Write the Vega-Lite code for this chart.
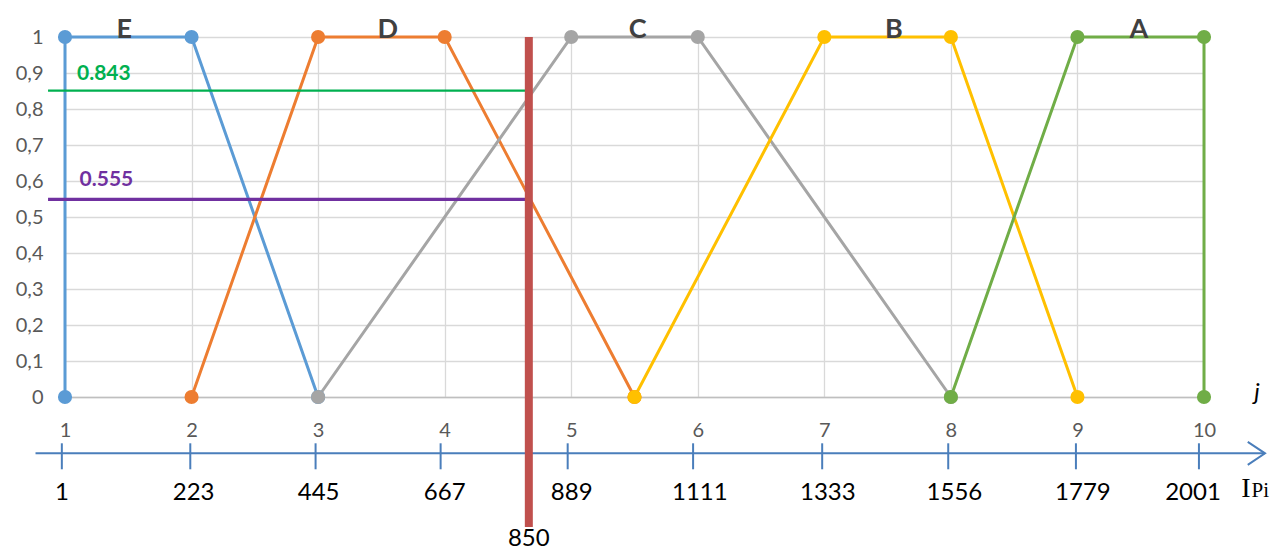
{
  "$schema": "https://vega.github.io/schema/vega-lite/v6.json",
  "width": 1139,
  "height": 360,
  "autosize": {"type": "none"},
  "padding": {"left": 65, "top": 37, "right": 66, "bottom": 154},
  "background": "white",
  "config": {"view": {"stroke": null}, "font": "Lato"},
  "datasets": {
    "series": [
      {"s": "E", "i": 1, "j": 1, "v": 0},
      {"s": "E", "i": 2, "j": 1, "v": 1},
      {"s": "E", "i": 3, "j": 2, "v": 1},
      {"s": "E", "i": 4, "j": 3, "v": 0},
      {"s": "D", "i": 1, "j": 2, "v": 0},
      {"s": "D", "i": 2, "j": 3, "v": 1},
      {"s": "D", "i": 3, "j": 4, "v": 1},
      {"s": "D", "i": 4, "j": 5.5, "v": 0},
      {"s": "C", "i": 1, "j": 3, "v": 0},
      {"s": "C", "i": 2, "j": 5, "v": 1},
      {"s": "C", "i": 3, "j": 6, "v": 1},
      {"s": "C", "i": 4, "j": 8, "v": 0},
      {"s": "B", "i": 1, "j": 5.5, "v": 0},
      {"s": "B", "i": 2, "j": 7, "v": 1},
      {"s": "B", "i": 3, "j": 8, "v": 1},
      {"s": "B", "i": 4, "j": 9, "v": 0},
      {"s": "A", "i": 1, "j": 8, "v": 0},
      {"s": "A", "i": 2, "j": 9, "v": 1},
      {"s": "A", "i": 3, "j": 10, "v": 1},
      {"s": "A", "i": 4, "j": 10, "v": 0}
    ],
    "letters": [
      {"t": "E", "j": 1.468, "v": 0.997},
      {"t": "D", "j": 3.55, "v": 0.997},
      {"t": "C", "j": 5.525, "v": 0.997},
      {"t": "B", "j": 7.55, "v": 0.997},
      {"t": "A", "j": 9.486, "v": 0.997}
    ],
    "green": [{"t": "0.843", "j": 0.866, "j2": 4.665, "v": 0.851, "tj": 1.095, "tv": 0.881}],
    "purple": [{"t": "0.555", "j": 0.866, "j2": 4.665, "v": 0.549, "tj": 1.115, "tv": 0.586}],
    "red": [{"t": "850", "j": 4.665, "v": 1.0, "v2": -0.361, "tv": -0.414}],
    "ipaxis": [{"j": 0.767, "j2": 10.482, "v": -0.1564}],
    "ipticks": [
      {"t": "1", "j": 0.975, "lj": 0.976},
      {"t": "223", "j": 1.99, "lj": 2.016},
      {"t": "445", "j": 2.98, "lj": 3.004},
      {"t": "667", "j": 3.968, "lj": 4.0},
      {"t": "889", "j": 4.972, "lj": 5.004},
      {"t": "1111", "j": 5.963, "lj": 6.016},
      {"t": "1333", "j": 6.983, "lj": 7.028},
      {"t": "1556", "j": 7.979, "lj": 8.028},
      {"t": "1779", "j": 8.988, "lj": 9.043},
      {"t": "2001", "j": 9.96, "lj": 9.913}
    ]
  },
  "layer": [
    {
      "data": {"name": "series"},
      "mark": {"type": "line", "strokeWidth": 3},
      "encoding": {
        "x": {"field": "j", "type": "quantitative", "title": null,
          "scale": {"domain": [1, 10], "nice": false, "zero": false},
          "axis": {"values": [1,2,3,4,5,6,7,8,9,10], "tickCount": 10, "format": "d", "grid": true, "gridColor": "#d9d9d9", "gridWidth": 1.3,
            "ticks": false, "tickSize": 0, "labelPadding": 23, "labelFontSize": 20, "labelColor": "#595959",
            "labelFont": "Lato", "domainColor": "#bfbfbf", "domainWidth": 1.6, "labelFlush": false, "labelOverlap": false}},
        "y": {"field": "v", "type": "quantitative", "title": null,
          "scale": {"domain": [0, 1], "nice": false},
          "axis": {"values": [0,0.1,0.2,0.3,0.4,0.5,0.6,0.7,0.8,0.9,1], "tickCount": 11, "grid": true, "gridColor": "#d9d9d9", "gridWidth": 1.3,
            "ticks": false, "tickSize": 0, "domain": false, "labelPadding": 22, "labelFontSize": 20, "labelColor": "#595959",
            "labelFont": "Lato", "labelFlush": false, "labelOverlap": false,
            "labelExpr": "replace(format(datum.value, '.1~f'), '.', ',')"}},
        "order": {"field": "i", "type": "quantitative"},
        "color": {"field": "s", "type": "nominal", "legend": null,
          "scale": {"domain": ["E","D","C","B","A"], "range": ["#5b9bd5","#ed7d31","#a5a5a5","#ffc000","#70ad47"]}}
      }
    },
    {
      "data": {"name": "series"},
      "mark": {"type": "point", "size": 200, "filled": true, "opacity": 1},
      "encoding": {
        "x": {"field": "j", "type": "quantitative", "title": null},
        "y": {"field": "v", "type": "quantitative", "title": null},
        "color": {"field": "s", "type": "nominal", "legend": null}
      }
    },
    {
      "data": {"name": "letters"},
      "mark": {"type": "text", "fontSize": 27, "fontWeight": "bold", "color": "#404040", "align": "center", "baseline": "alphabetic"},
      "encoding": {
        "x": {"field": "j", "type": "quantitative", "title": null},
        "y": {"field": "v", "type": "quantitative", "title": null},
        "text": {"field": "t"}
      }
    },
    {
      "data": {"name": "green"},
      "mark": {"type": "rule", "color": "#00b050", "strokeWidth": 2.2},
      "encoding": {
        "x": {"field": "j", "type": "quantitative", "title": null},
        "x2": {"field": "j2"},
        "y": {"field": "v", "type": "quantitative", "title": null}
      }
    },
    {
      "data": {"name": "green"},
      "mark": {"type": "text", "fontSize": 21, "fontWeight": "bold", "color": "#00b050", "align": "left", "baseline": "alphabetic"},
      "encoding": {
        "x": {"field": "tj", "type": "quantitative", "title": null},
        "y": {"field": "tv", "type": "quantitative", "title": null},
        "text": {"field": "t"}
      }
    },
    {
      "data": {"name": "purple"},
      "mark": {"type": "rule", "color": "#7030a0", "strokeWidth": 3.2},
      "encoding": {
        "x": {"field": "j", "type": "quantitative", "title": null},
        "x2": {"field": "j2"},
        "y": {"field": "v", "type": "quantitative", "title": null}
      }
    },
    {
      "data": {"name": "purple"},
      "mark": {"type": "text", "fontSize": 21, "fontWeight": "bold", "color": "#7030a0", "align": "left", "baseline": "alphabetic"},
      "encoding": {
        "x": {"field": "tj", "type": "quantitative", "title": null},
        "y": {"field": "tv", "type": "quantitative", "title": null},
        "text": {"field": "t"}
      }
    },
    {
      "data": {"name": "ipaxis"},
      "mark": {"type": "rule", "color": "#4a7ebb", "strokeWidth": 2},
      "encoding": {
        "x": {"field": "j", "type": "quantitative", "title": null},
        "x2": {"field": "j2"},
        "y": {"field": "v", "type": "quantitative", "title": null}
      }
    },
    {
      "data": {"name": "ipaxis"},
      "mark": {"type": "point", "shape": "M-1.5,-1L0,0L-1.5,1", "size": 529, "filled": false, "stroke": "#4a7ebb", "strokeWidth": 2, "opacity": 1},
      "encoding": {
        "x": {"field": "j2", "type": "quantitative", "title": null},
        "y": {"field": "v", "type": "quantitative", "title": null}
      }
    },
    {
      "data": {"name": "ipticks"},
      "mark": {"type": "rule", "color": "#4a7ebb", "strokeWidth": 2},
      "encoding": {
        "x": {"field": "j", "type": "quantitative", "title": null},
        "y": {"datum": -0.1286, "type": "quantitative"},
        "y2": {"datum": -0.2008}
      }
    },
    {
      "data": {"name": "ipticks"},
      "mark": {"type": "text", "fontSize": 24, "color": "#000000", "align": "center", "baseline": "alphabetic"},
      "encoding": {
        "x": {"field": "lj", "type": "quantitative", "title": null},
        "y": {"datum": -0.287, "type": "quantitative"},
        "text": {"field": "t"}
      }
    },
    {
      "data": {"values": [{"t": "I", "j": 10.332, "v": -0.278}]},
      "mark": {"type": "text", "font": "Liberation Serif", "fontSize": 28, "color": "#000000", "align": "center", "baseline": "alphabetic"},
      "encoding": {
        "x": {"field": "j", "type": "quantitative", "title": null},
        "y": {"field": "v", "type": "quantitative", "title": null},
        "text": {"field": "t"}
      }
    },
    {
      "data": {"values": [{"t": "Pi", "j": 10.376, "v": -0.278}]},
      "mark": {"type": "text", "font": "Liberation Serif", "fontSize": 21, "color": "#000000", "align": "left", "baseline": "alphabetic"},
      "encoding": {
        "x": {"field": "j", "type": "quantitative", "title": null},
        "y": {"field": "v", "type": "quantitative", "title": null},
        "text": {"field": "t"}
      }
    },
    {
      "data": {"values": [{"t": "j", "j": 10.419, "v": -0.0094}]},
      "mark": {"type": "text", "fontSize": 24, "fontStyle": "italic", "color": "#000000", "align": "center", "baseline": "alphabetic"},
      "encoding": {
        "x": {"field": "j", "type": "quantitative", "title": null},
        "y": {"field": "v", "type": "quantitative", "title": null},
        "text": {"field": "t"}
      }
    },
    {
      "data": {"name": "red"},
      "mark": {"type": "rule", "color": "#c0504d", "strokeWidth": 8},
      "encoding": {
        "x": {"field": "j", "type": "quantitative", "title": null},
        "y": {"field": "v", "type": "quantitative", "title": null},
        "y2": {"field": "v2"}
      }
    },
    {
      "data": {"name": "red"},
      "mark": {"type": "text", "fontSize": 24, "color": "#000000", "align": "center", "baseline": "alphabetic"},
      "encoding": {
        "x": {"field": "j", "type": "quantitative", "title": null},
        "y": {"field": "tv", "type": "quantitative", "title": null},
        "text": {"field": "t"}
      }
    }
  ]
}
